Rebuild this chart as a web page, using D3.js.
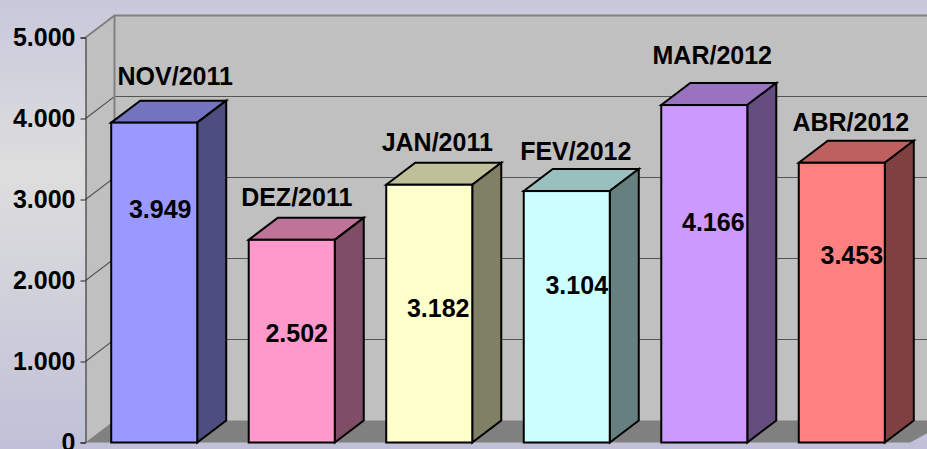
<!DOCTYPE html>
<html>
<head>
<meta charset="utf-8">
<script src="https://d3js.org/d3.v7.min.js"></script>
<style>
html, body { margin: 0; padding: 0; overflow: hidden; }
text { font-family: "Liberation Sans", Arial, sans-serif; font-weight: bold; fill: #000; }
</style>
</head>
<body>
<svg></svg>
<script>
var months = ["NOV/2011", "DEZ/2011", "JAN/2011", "FEV/2012", "MAR/2012", "ABR/2012"]
var totals = [3949, 2502, 3182, 3104, 4166, 3453]
var yTicks = [0, 1000, 2000, 3000, 4000, 5000]

// front, top and side colours of each bar
var frontColors = ["#9999ff", "#ff99cc", "#ffffcc", "#ccffff", "#cc99ff", "#ff8080"]
var topColors = ["#7373bf", "#bf7399", "#bfbf99", "#99bfbf", "#9973bf", "#bf6060"]
var sideColors = ["#4d4d80", "#804d66", "#808066", "#668080", "#664d80", "#804040"]

// labels were placed by hand in the original, offsets from the bar
var monthOffset = [[21, -38], [5, -34], [8, -34], [9, -31], [8, -41], [9, -32]]
var valueOffset = [[6, 0], [5, 0], [9, 0], [10, 0], [9, 0], [10, 0]]
var valueY = [209, 333, 308, 285, 222, 255]

var width = 927
var height = 449
var depthX = 29
var depthY = 22

var svg = d3.select("svg")
    .attr("width", width)
    .attr("height", height)
    .style("display", "block")

var defs = svg.append("defs")
var bg = defs.append("linearGradient")
    .attr("id", "bg")
    .attr("x1", 0).attr("y1", 0).attr("x2", 0).attr("y2", 1)
bg.append("stop").attr("offset", "0%").attr("stop-color", "#c8c8dc")
bg.append("stop").attr("offset", "38%").attr("stop-color", "#dedede")
bg.append("stop").attr("offset", "100%").attr("stop-color", "#c0c0d8")

svg.append("rect")
    .attr("width", width)
    .attr("height", height)
    .attr("fill", "url(#bg)")

var scY = d3.scaleLinear().domain([0, 5000]).range([442.5, 37.5])
var scX = d3.scaleBand()
    .domain(months)
    .range([85.5, 910.5])
    .paddingInner(0.3745)
    .paddingOuter(0.187)

var x0 = scX.range()[0]
var x1 = scX.range()[1]
var wallRight = x1 + depthX + 10

// walls
svg.append("path")
    .attr("d", d3.line()([[x0, scY(5000)], [x0 + depthX, scY(5000) - depthY], [x0 + depthX, scY(0) - depthY], [x0, scY(0)]]) + "Z")
    .attr("fill", "#c0c0c0")
svg.append("rect")
    .attr("x", x0 + depthX)
    .attr("y", scY(5000) - depthY)
    .attr("width", wallRight - x0 - depthX)
    .attr("height", scY(0) - scY(5000))
    .attr("fill", "#c0c0c0")
svg.append("path")
    .attr("d", d3.line()([[x0, scY(0)], [x0 + depthX, scY(0) - depthY], [wallRight, scY(0) - depthY], [x1, scY(0)]]) + "Z")
    .attr("fill", "#808080")

// gridlines
yTicks.slice(1).forEach(function (t) {
    var top = t == 5000
    svg.append("path")
        .attr("d", d3.line()([[x0, scY(t)], [x0 + depthX, scY(t) - depthY], [wallRight, scY(t) - depthY]]))
        .attr("fill", "none")
        .attr("stroke", top ? "#808080" : "#555")
        .attr("stroke-width", top ? 2 : 1.2)
})
svg.append("line")
    .attr("x1", x0 + depthX).attr("x2", x0 + depthX)
    .attr("y1", scY(5000) - depthY).attr("y2", scY(0) - depthY)
    .attr("stroke", "#808080").attr("stroke-width", 2)

// axis
var nf = d3.formatLocale({decimal: ",", thousands: ".", grouping: [3], currency: ["", ""]}).format(",d")
var yAxis = d3.axisLeft(scY).tickValues(yTicks).tickFormat(nf).tickSize(5).tickPadding(5)
var axisG = svg.append("g").attr("transform", "translate(85.5,0)").call(yAxis)
axisG.selectAll("text").style("font-size", "25px").attr("fill", "#000")
axisG.selectAll("path, line").attr("stroke", "#222").attr("stroke-width", 1)

// bars
var bars = svg.selectAll("g.bar").data(months).enter().append("g").attr("class", "bar")
var bw = scX.bandwidth()

bars.append("path") // top
    .attr("d", function (d, i) {
        var x = scX(d), y = scY(totals[i])
        return d3.line()([[x, y], [x + depthX, y - depthY], [x + bw + depthX, y - depthY], [x + bw, y]]) + "Z"
    })
    .attr("fill", function (d, i) { return topColors[i] })
bars.append("path") // side
    .attr("d", function (d, i) {
        var x = scX(d) + bw, y = scY(totals[i])
        return d3.line()([[x, y], [x + depthX, y - depthY], [x + depthX, scY(0) - depthY], [x, scY(0)]]) + "Z"
    })
    .attr("fill", function (d, i) { return sideColors[i] })
bars.append("rect") // front
    .attr("x", function (d) { return scX(d) })
    .attr("y", function (d, i) { return scY(totals[i]) })
    .attr("width", bw)
    .attr("height", function (d, i) { return scY(0) - scY(totals[i]) })
    .attr("fill", function (d, i) { return frontColors[i] })
bars.selectAll("path, rect")
    .attr("stroke", "#000")
    .attr("stroke-width", 2)
    .attr("stroke-linejoin", "miter")

// month labels above the bars
bars.append("text")
    .attr("x", function (d, i) { return scX(d) + bw / 2 + monthOffset[i][0] })
    .attr("y", function (d, i) { return scY(totals[i]) + monthOffset[i][1] })
    .attr("text-anchor", "middle")
    .style("font-size", "25px")
    .text(function (d) { return d })

// values on the bars
bars.append("text")
    .attr("x", function (d, i) { return scX(d) + bw / 2 + valueOffset[i][0] })
    .attr("y", function (d, i) { return valueY[i] })
    .attr("dy", "0.35em")
    .attr("text-anchor", "middle")
    .style("font-size", "25px")
    .text(function (d, i) { return nf(totals[i]) })
</script>
</body>
</html>
